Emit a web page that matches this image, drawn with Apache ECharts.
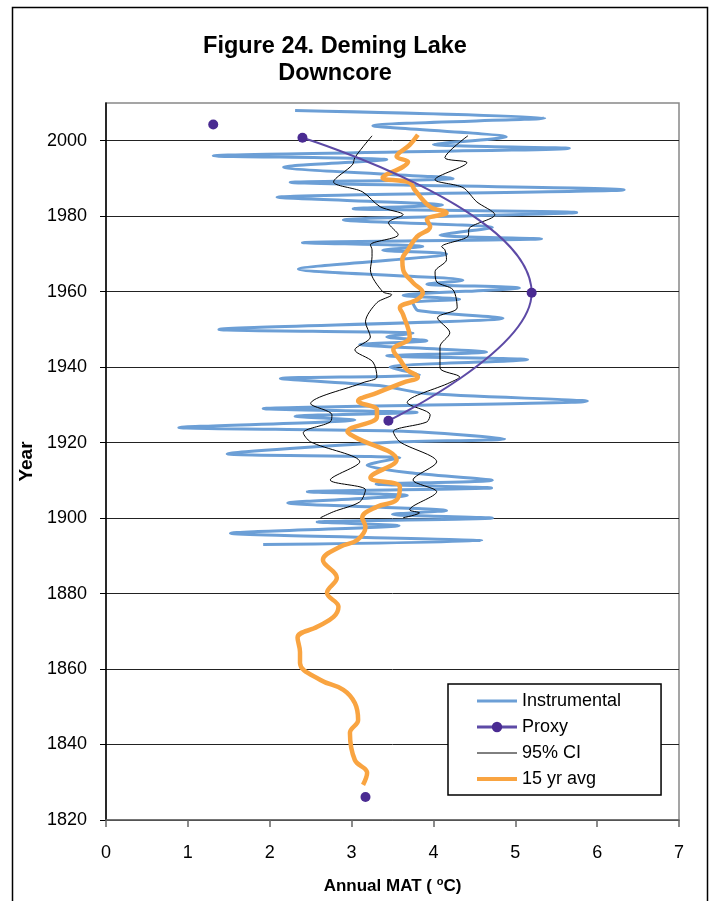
<!DOCTYPE html>
<html><head><meta charset="utf-8">
<script src="https://cdn.jsdelivr.net/npm/echarts@6/dist/echarts.min.js"></script>
<style>html,body{margin:0;padding:0;background:#fff}#c{width:714px;height:901px}</style>
</head><body><div id="c"></div><script>
// ---- Data ----
const xTicks = [0, 1, 2, 3, 4, 5, 6, 7];
const yTicks = [1820, 1840, 1860, 1880, 1900, 1920, 1940, 1960, 1980, 2000];
const yMax = 2010;

const instYears = [1893,1894,1896,1898,1899,1900,1901,1902,1904,1906,1907,1908,1909,1910,1912,1914,1916,1917,1920,1921,1923,1924,1926,1927,1928,1929,1931,1933,1935,1937,1938,1940,1942,1943,1944,1946,1947,1948,1949,1950,1953,1955,1957,1958,1959,1961,1962,1963,1966,1970,1971,1972,1973,1974,1975,1977,1979,1981,1982,1983,1985,1987,1989,1990,1993,1995,1996,1998,1999,2001,2004,2006,2008];
const instTemps = [1.92,4.59,1.52,3.58,2.58,4.72,3.5,4.16,2.22,3.68,2.46,4.71,3.3,4.72,3.71,3.19,3.59,1.48,3.37,4.87,3.63,0.89,3.04,2.31,3.8,1.92,5.88,3.9,3.38,2.13,3.83,3.47,5.15,3.43,4.65,3.1,3.92,3.43,3.75,1.38,4.85,3.81,3.75,4.32,3.63,5.05,3.92,4.36,2.35,4.16,3.38,3.87,2.4,5.32,4.08,4.72,2.9,5.75,3.02,4.11,2.09,6.33,2.25,4.24,2.17,3.43,1.31,5.66,4.0,4.89,3.26,5.36,2.31];

const proxyYears = [2004.3, null, 2000.8, 1959.7, 1925.8, null, 1826.1];
const proxyTemps = [1.31, null, 2.40, 5.20, 3.45, null, 3.17];

const ciLowYears = [1900.1,1901.7,1904.3,1907.5,1910.1,1914.9,1920.2,1922.6,1925.5,1927.4,1930.3,1935.9,1937.4,1941.4,1944.6,1948.0,1952.0,1957.1,1959.2,1960.0,1965.8,1969.3,1971.1,1972.4,1975.1,1978.3,1980.4,1982.5,1986.5,1989.1,1993.6,1995.5,1998.4,2001.3];
const ciLowTemps = [2.62,2.78,3.10,3.17,2.74,3.10,2.50,2.41,2.74,2.76,2.50,3.14,3.31,3.26,3.04,3.23,3.17,3.31,3.49,3.38,3.23,3.25,3.25,3.23,3.57,3.45,3.63,3.35,3.13,2.78,3.01,3.04,3.14,3.25];

const ciHighYears = [1900.1,1901.4,1902.2,1907.0,1910.1,1914.9,1920.2,1922.9,1925.5,1927.4,1930.6,1935.9,1937.4,1939.8,1945.4,1949.1,1953.1,1955.7,1960.5,1962.6,1965.3,1968.5,1971.1,1971.9,1974.6,1976.9,1980.4,1983.8,1987.6,1989.7,1994.2,1995.5,2001.3];
const ciHighTemps = [3.63,3.83,3.71,4.04,3.75,4.04,3.59,3.51,3.92,3.96,3.68,4.20,4.32,4.08,4.08,4.20,4.05,4.29,4.24,4.04,4.02,4.16,4.14,4.10,4.42,4.44,4.75,4.53,4.36,4.02,4.41,4.14,4.42];

const avgYears = [1829.3,1832.5,1835.9,1843.1,1846.5,1851.0,1854.5,1857.1,1861.6,1864.5,1868.3,1871.2,1873.8,1876.5,1880.2,1884.2,1888.9,1892.4,1894.2,1897.7,1900.1,1903.0,1904.8,1908.3,1910.7,1915.4,1921.5,1922.9,1926.8,1928.7,1931.0,1933.2,1935.9,1937.4,1939.3,1942.0,1944.6,1948.0,1953.9,1955.7,1957.9,1959.7,1962.4,1965.8,1968.5,1971.1,1974.6,1977.2,1979.1,1980.9,1982.5,1987.0,1988.9,1990.2,1993.1,1994.4,1995.8,1998.9,2001.6];
const avgTemps = [3.14,3.19,3.04,2.98,3.08,3.04,2.90,2.62,2.37,2.37,2.34,2.58,2.78,2.84,2.70,2.82,2.65,2.86,3.07,3.17,3.13,3.31,3.55,3.59,3.23,3.55,3.04,2.95,3.31,3.31,3.08,3.31,3.63,3.81,3.68,3.59,3.51,3.71,3.63,3.59,3.80,3.87,3.75,3.63,3.62,3.69,3.80,3.96,3.92,4.16,3.96,3.77,3.71,3.38,3.63,3.69,3.55,3.71,3.81];

const seriesNames = ['Instrumental', 'Proxy', '95% CI', '15 yr avg'];

// ---- Build ----
function pairs(xs, ys) {
  return xs.map((x, i) => (x === null || ys[i] === null) ? ['-', '-'] : [ys[i], x]);
}
const FONT = '"Liberation Sans", Arial, sans-serif';
const C_INST = '#6c9fd6', C_PROXY = '#5d4aa6', C_PROXY_DOT = '#4a2b92', C_AVG = '#f9a441';

const chart = echarts.init(document.getElementById('c'), null, {renderer: 'canvas'});
chart.setOption({
  animation: false,
  backgroundColor: '#fff',
  textStyle: {fontFamily: FONT, color: '#000'},
  title: {
    text: 'Figure 24. Deming Lake\nDowncore',
    left: 335, top: 33, padding: 0,
    textAlign: 'center',
    textStyle: {fontFamily: FONT, fontSize: 23.5, fontWeight: 'bold', color: '#000', lineHeight: 27}
  },
  graphic: [{
    type: 'rect', silent: true, z: -1,
    shape: {x: 12.5, y: 7.5, width: 695, height: 905},
    style: {fill: 'none', stroke: '#000', lineWidth: 1.5}
  }],
  grid: {left: 106, right: 35, top: 103, bottom: 81, show: true, borderColor: '#888', borderWidth: 1.5, backgroundColor: 'transparent'},
  legend: {
    orient: 'vertical', left: 448, top: 684,
    data: [
      {name: seriesNames[0], itemStyle: {opacity: 0}, lineStyle: {color: C_INST, width: 3}},
      {name: seriesNames[1], lineStyle: {color: C_PROXY, width: 3}},
      {name: seriesNames[2], itemStyle: {opacity: 0}, lineStyle: {color: '#000', width: 1}},
      {name: seriesNames[3], itemStyle: {opacity: 0}, lineStyle: {color: C_AVG, width: 4}}
    ],
    backgroundColor: '#fff', borderColor: '#000', borderWidth: 1.5,
    padding: [7, 40, 6, 27],
    itemWidth: 40, itemHeight: 13, itemGap: 6,
    textStyle: {fontFamily: FONT, fontSize: 18, color: '#000', lineHeight: 20}
  },
  xAxis: {
    type: 'value', min: xTicks[0], max: xTicks[xTicks.length - 1], interval: 1,
    name: 'Annual MAT ( {sup|o}C)', nameLocation: 'middle', nameGap: 56,
    nameTextStyle: {fontFamily: FONT, fontSize: 17, fontWeight: 'bold', color: '#000',
      rich: {sup: {fontFamily: FONT, fontSize: 11, fontWeight: 'bold', color: '#000', padding: [0, 0, 9, 0]}}},
    axisLine: {show: true, onZero: false, lineStyle: {color: '#666', width: 1.5}},
    axisTick: {show: true, inside: false, length: 7, lineStyle: {color: '#666', width: 1.5}},
    axisLabel: {fontFamily: FONT, fontSize: 18, color: '#000', margin: 24},
    splitLine: {show: false}
  },
  yAxis: {
    type: 'value', min: yTicks[0], max: yMax, interval: 20,
    name: 'Year', nameLocation: 'middle', nameGap: 66, nameRotate: 90,
    nameTextStyle: {fontFamily: FONT, fontSize: 19, fontWeight: 'bold', color: '#000'},
    axisLine: {show: true, onZero: false, lineStyle: {color: '#000', width: 1.5}},
    axisTick: {show: true, inside: false, length: 6, lineStyle: {color: '#000', width: 1}, customValues: yTicks},
    axisLabel: {fontFamily: FONT, fontSize: 18, color: '#000', margin: 19, customValues: yTicks,
      formatter: v => String(Math.round(v))},
    splitLine: {show: true, lineStyle: {color: '#222', width: 1}}
  },
  series: [
    {
      name: seriesNames[0], type: 'line', data: pairs(instYears, instTemps),
      showSymbol: false, symbol: 'none', smooth: 0.25,
      lineStyle: {color: C_INST, width: 3}, itemStyle: {color: C_INST}, z: 2
    },
    {
      name: seriesNames[2], type: 'line', data: pairs(ciLowYears, ciLowTemps),
      symbol: 'none', smooth: 0.3,
      lineStyle: {color: '#000', width: 1}, itemStyle: {color: '#000'}, z: 3
    },
    {
      name: seriesNames[2], type: 'line', data: pairs(ciHighYears, ciHighTemps),
      symbol: 'none', smooth: 0.3,
      lineStyle: {color: '#000', width: 1}, itemStyle: {color: '#000'}, z: 3
    },
    {
      name: seriesNames[3], type: 'line', data: pairs(avgYears, avgTemps),
      symbol: 'none', smooth: 0.4,
      lineStyle: {color: C_AVG, width: 4.5}, itemStyle: {color: C_AVG}, z: 4
    },
    {
      name: seriesNames[1], type: 'line', data: pairs(proxyYears, proxyTemps),
      symbol: 'circle', symbolSize: 10, showSymbol: true, smooth: 0.5, connectNulls: false,
      lineStyle: {color: C_PROXY, width: 2}, itemStyle: {color: C_PROXY_DOT}, z: 5
    }
  ]
});
</script></body></html>
